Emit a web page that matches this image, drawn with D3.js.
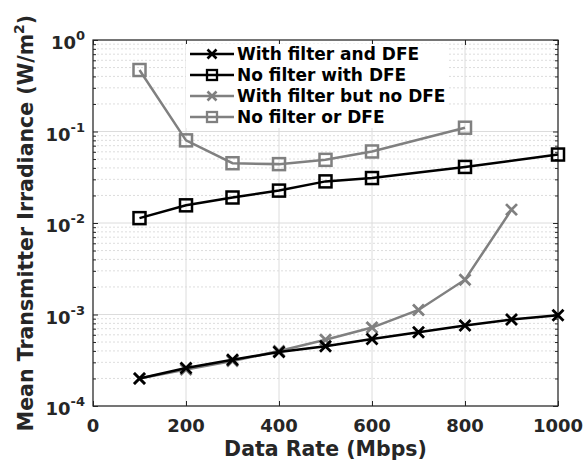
<!DOCTYPE html>
<html><head><meta charset="utf-8">
<script src="https://cdn.jsdelivr.net/npm/d3@7"></script>
<style>body{margin:0;background:#fff}svg{display:block}text{font-family:"DejaVu Sans",sans-serif;font-weight:bold;fill:#262626}</style>
</head><body><svg id="c" width="585" height="462"></svg>
<script>
const seriesNames = ["With filter and DFE","No filter with DFE","With filter but no DFE","No filter or DFE"];
const rateA = [100,200,300,400,500,600,700,800,900,1000];
const filtDFE = [2.0e-4,2.6e-4,3.2e-4,3.9e-4,4.5e-4,5.4e-4,6.4e-4,7.6e-4,8.8e-4,9.8e-4];
const rateB = [100,200,300,400,500,600,800,1000];
const noFiltDFE = [1.13e-2,1.56e-2,1.9e-2,2.26e-2,2.85e-2,3.1e-2,4.1e-2,5.6e-2];
const rateC = [100,200,300,400,500,600,700,800,900];
const filtNoDFE = [2.0e-4,2.5e-4,3.1e-4,4.0e-4,5.3e-4,7.2e-4,1.12e-3,2.4e-3,1.4e-2];
const rateD = [100,200,300,400,500,600,800];
const noFiltNoDFE = [0.47,0.08,0.045,0.044,0.049,0.0605,0.11];
const xTicks = [0,200,400,600,800,1000];
const yExp = [0,-1,-2,-3,-4];

const series = [
  {name:seriesNames[0], x:rateA, y:filtDFE, color:"#000", marker:"x"},
  {name:seriesNames[1], x:rateB, y:noFiltDFE, color:"#000", marker:"s"},
  {name:seriesNames[2], x:rateC, y:filtNoDFE, color:"#808080", marker:"x"},
  {name:seriesNames[3], x:rateD, y:noFiltNoDFE, color:"#808080", marker:"s"}
];

const svg = d3.select("#c");
const L=93,R=558,T=40,B=406;
const x = d3.scaleLinear().domain([0,1000]).range([L,R]);
const y = d3.scaleLog().domain([1e-4,1]).range([B,T]);

const g = svg.append("g");
const minors=[];
for(let e=-4;e<0;e++) for(let k=2;k<=9;k++) minors.push(k*Math.pow(10,e));
g.selectAll(".mg").data(minors).enter().append("line")
  .attr("x1",L).attr("x2",R).attr("y1",d=>y(d)).attr("y2",d=>y(d))
  .attr("stroke","#d4d4d4").attr("stroke-width",0.8).attr("stroke-dasharray","2,2");
g.selectAll(".Mg").data(yExp.map(e=>Math.pow(10,e))).enter().append("line")
  .attr("x1",L).attr("x2",R).attr("y1",d=>y(d)).attr("y2",d=>y(d))
  .attr("stroke","#dcdcdc").attr("stroke-width",1);
g.selectAll(".Mx").data(xTicks).enter().append("line")
  .attr("x1",d=>x(d)).attr("x2",d=>x(d)).attr("y1",T).attr("y2",B)
  .attr("stroke","#dcdcdc").attr("stroke-width",1);

const axB = d3.axisBottom(x).tickValues(xTicks).tickSize(-5).tickFormat("");
svg.append("g").attr("transform",`translate(0,${B})`).call(axB)
  .call(s=>{s.select(".domain").remove();s.selectAll("line").attr("stroke","#262626");});
const axT = d3.axisTop(x).tickValues(xTicks).tickSize(-5).tickFormat("");
svg.append("g").attr("transform",`translate(0,${T})`).call(axT)
  .call(s=>{s.select(".domain").remove();s.selectAll("line").attr("stroke","#262626");});
[[L,d3.axisLeft],[R,d3.axisRight]].forEach(([px,fn])=>{
  svg.append("g").attr("transform",`translate(${px},0)`).call(fn(y).tickValues(minors).tickSize(-3).tickFormat(""))
    .call(s=>{s.select(".domain").remove();s.selectAll("line").attr("stroke","#262626");});
  svg.append("g").attr("transform",`translate(${px},0)`).call(fn(y).tickValues(yExp.map(e=>Math.pow(10,e))).tickSize(-5).tickFormat(""))
    .call(s=>{s.select(".domain").remove();s.selectAll("line").attr("stroke","#262626");});
});
svg.append("rect").attr("x",L).attr("y",T).attr("width",R-L).attr("height",B-T)
  .attr("fill","none").attr("stroke","#262626").attr("stroke-width",1.2);

svg.selectAll(".xl").data(xTicks).enter().append("text")
  .attr("x",d=>x(d)).attr("y",B+26).attr("text-anchor","middle").attr("font-size",18).text(d=>d);
yExp.forEach(e=>{
  const t = svg.append("text").attr("x",L-8).attr("y",y(Math.pow(10,e))+9).attr("text-anchor","end").attr("font-size",18);
  t.append("tspan").text("10");
  t.append("tspan").attr("dy",-9).attr("font-size",13).text(e);
});

svg.append("text").attr("x",(L+R)/2).attr("y",456).attr("text-anchor","middle").attr("font-size",20.5).text("Data Rate (Mbps)");
const yl = svg.append("text").attr("transform",`translate(33,223) rotate(-90)`).attr("text-anchor","middle").attr("font-size",20.5);
yl.append("tspan").text("Mean Transmitter Irradiance (W/m");
yl.append("tspan").attr("dy",-9).attr("font-size",14).text("2");
yl.append("tspan").attr("dy",9).text(")");

function marker(sel, type, color, size, sw){
  if(type==="s"){
    sel.append("rect").attr("x",-size/2).attr("y",-size/2).attr("width",size).attr("height",size)
      .attr("fill","none").attr("stroke",color).attr("stroke-width",sw);
  } else {
    const h=size/2;
    sel.append("path").attr("d",`M${-h},${-h}L${h},${h}M${-h},${h}L${h},${-h}`)
      .attr("stroke",color).attr("stroke-width",sw+0.3).attr("fill","none");
  }
}

const line = d3.line().x(d=>x(d[0])).y(d=>y(d[1]));
[3,2,1,0].forEach(i=>{
  const s=series[i];
  const pts=s.x.map((v,j)=>[v,s.y[j]]);
  svg.append("path").datum(pts).attr("d",line).attr("fill","none").attr("stroke",s.color).attr("stroke-width",2.5);
  pts.forEach(p=>{
    const m=svg.append("g").attr("transform",`translate(${x(p[0])},${y(p[1])})`);
    marker(m,s.marker,s.color,s.marker==="s"?12:11,2.5);
  });
});

const lg = svg.append("g");
series.forEach((s,i)=>{
  const yy = 54 + i*21;
  lg.append("rect").attr("x",186).attr("y",yy-10).attr("width",262).attr("height",21).attr("fill","#fff");
});
series.forEach((s,i)=>{
  const yy = 54 + i*21;
  lg.append("line").attr("x1",190).attr("x2",234).attr("y1",yy).attr("y2",yy).attr("stroke",s.color).attr("stroke-width",2.5);
  const m=lg.append("g").attr("transform",`translate(212,${yy})`);
  marker(m,s.marker,s.color,s.marker==="s"?10:9,2.3);
  lg.append("text").attr("x",237).attr("y",yy+6).attr("font-size",17).style("fill","#000").text(s.name);
});
</script></body></html>
